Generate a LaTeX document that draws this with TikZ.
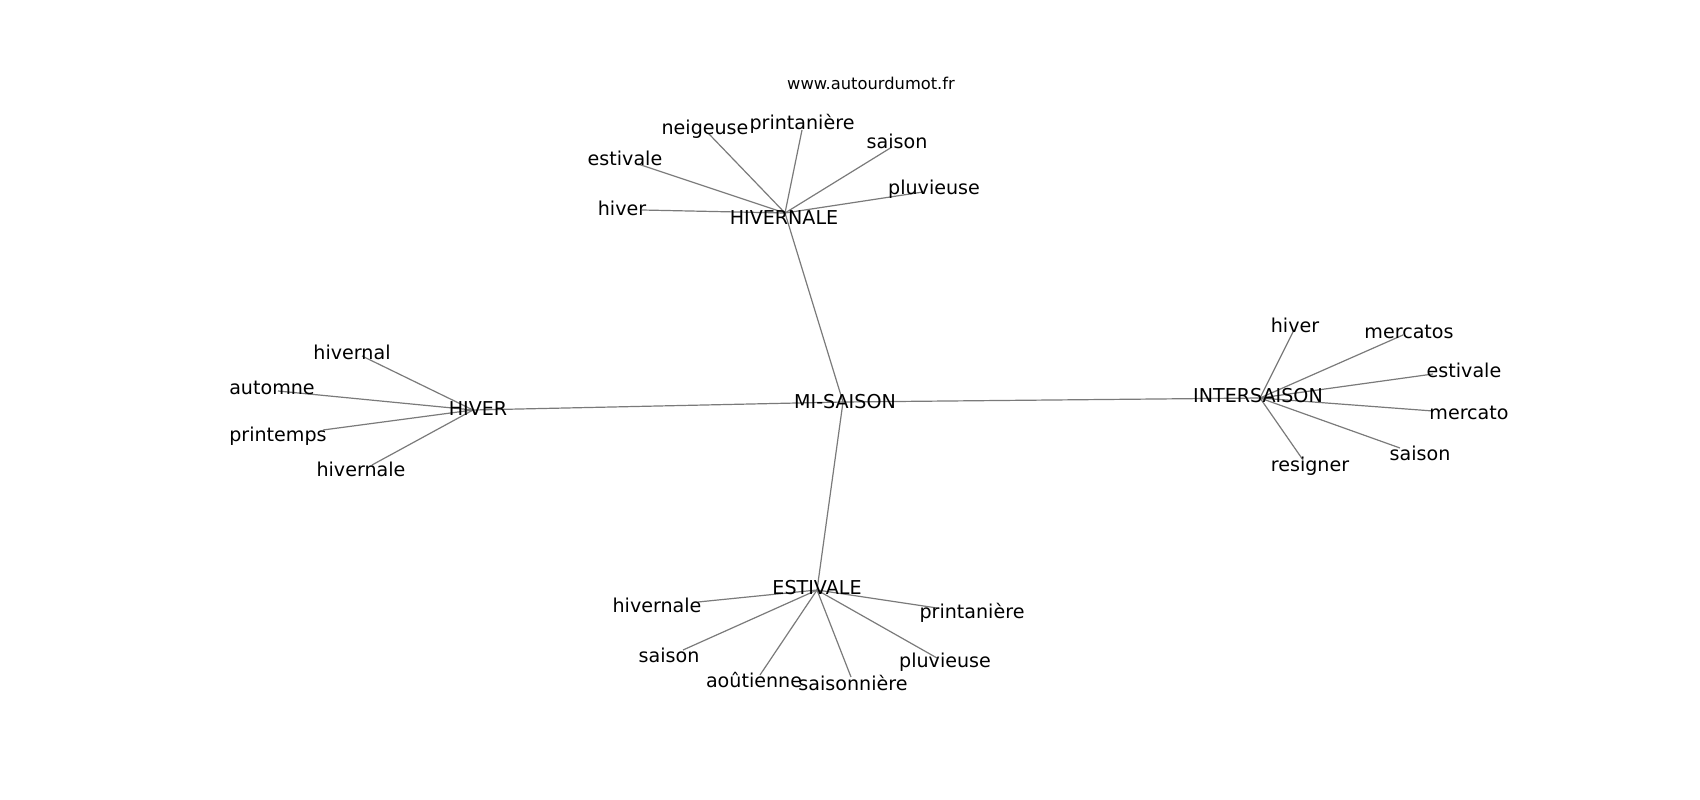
\documentclass[tikz,border=0pt]{standalone}
\usepackage{fontspec}
\setmainfont{DejaVu Sans}
\begin{document}
\begin{tikzpicture}[x=1pt,y=-1pt,
  lbl/.style={inner sep=0pt, anchor=center, font=\fontsize{19.1}{21}\selectfont},
  ttl/.style={inner sep=0pt, anchor=center, font=\fontsize{16.3}{18}\selectfont},
  edge/.style={draw=black!52, line width=1.2pt}]
\useasboundingbox (0,0) rectangle (1700,800);
% hub points
\coordinate (mi) at (843,402);
\coordinate (hn) at (785,213);
\coordinate (hv) at (473,410);
\coordinate (is) at (1260,398);
\coordinate (es) at (817,590);
% leaf points: HIVERNALE
\coordinate (hn1) at (709,134);
\coordinate (hn2) at (802,130);
\coordinate (hn3) at (892,147);
\coordinate (hn4) at (638,164);
\coordinate (hn5) at (923,192);
\coordinate (hn6) at (642,210);
% HIVER
\coordinate (hv1) at (362,356);
\coordinate (hv2) at (278,391);
\coordinate (hv3) at (323,430);
\coordinate (hv4) at (372,465);
% INTERSAISON
\coordinate (is1) at (1293,332);
\coordinate (is2) at (1403,335);
\coordinate (is3) at (1433,374);
\coordinate (is4) at (1433,411);
\coordinate (is5) at (1400,448);
\coordinate (is6) at (1303,460);
% ESTIVALE
\coordinate (es1) at (698,602);
\coordinate (es2) at (937,608);
\coordinate (es3) at (683,650);
\coordinate (es4) at (937,658);
\coordinate (es5) at (760,675);
\coordinate (es6) at (851,677);
% edges
\draw[edge] (mi) -- (hn);
\draw[edge] (mi) -- (hv);
\draw[edge] (mi) -- (is);
\draw[edge] (mi) -- (es);
\foreach \i in {1,...,6} {\draw[edge] (hn) -- (hn\i);}
\foreach \i in {1,...,4} {\draw[edge] (hv) -- (hv\i);}
\foreach \i in {1,...,6} {\draw[edge] (is) -- (is\i);}
\foreach \i in {1,...,6} {\draw[edge] (es) -- (es\i);}
% labels
\node[ttl] (title) at (871,83) {www.autourdumot.fr};
\node[lbl] (miL) at (845,402) {MI-SAISON};
\node[lbl] (hnL) at (784,218) {HIVERNALE};
\node[lbl] (hvL) at (478,409) {HIVER};
\node[lbl] (isL) at (1258,396) {INTERSAISON};
\node[lbl] (esL) at (817,588) {ESTIVALE};
\node[lbl] (hn1L) at (705,129) {neigeuse};
\node[lbl] (hn2L) at (802,124) {printanière};
\node[lbl] (hn3L) at (897,141) {saison};
\node[lbl] (hn4L) at (625,158) {estivale};
\node[lbl] (hn5L) at (934,189) {pluvieuse};
\node[lbl] (hn6L) at (622,208) {hiver};
\node[lbl] (hv1L) at (352,352) {hivernal};
\node[lbl] (hv2L) at (272,388) {automne};
\node[lbl] (hv3L) at (278,436) {printemps};
\node[lbl] (hv4L) at (361,469) {hivernale};
\node[lbl] (is1L) at (1295,325) {hiver};
\node[lbl] (is2L) at (1409,332) {mercatos};
\node[lbl] (is3L) at (1464,370) {estivale};
\node[lbl] (is4L) at (1469,413) {mercato};
\node[lbl] (is5L) at (1420,453) {saison};
\node[lbl] (is6L) at (1310,466) {resigner};
\node[lbl] (es1L) at (657,605) {hivernale};
\node[lbl] (es2L) at (972,613) {printanière};
\node[lbl] (es3L) at (669,655) {saison};
\node[lbl] (es4L) at (945,662) {pluvieuse};
\node[lbl] (es5L) at (754,680) {aoûtienne};
\node[lbl] (es6L) at (853,683) {saisonnière};
\end{tikzpicture}
\end{document}
